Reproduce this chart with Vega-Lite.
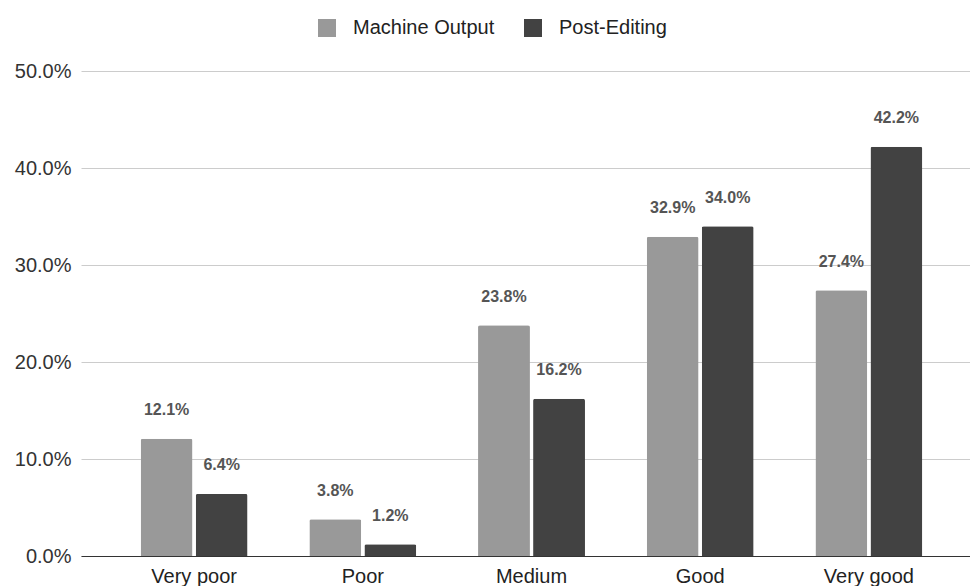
{
  "$schema": "https://vega.github.io/schema/vega-lite/v6.json",
  "autosize": "none",
  "width": 889,
  "height": 485,
  "padding": {"left": 81, "top": 71, "right": 0, "bottom": 30},
  "background": "white",
  "config": {
    "view": {"stroke": null},
    "font": "Liberation Sans"
  },
  "data": {
    "values": [
      {"rating": "Very poor", "series": "Machine Output", "share": 0.121},
      {"rating": "Very poor", "series": "Post-Editing", "share": 0.064},
      {"rating": "Poor", "series": "Machine Output", "share": 0.038},
      {"rating": "Poor", "series": "Post-Editing", "share": 0.012},
      {"rating": "Medium", "series": "Machine Output", "share": 0.238},
      {"rating": "Medium", "series": "Post-Editing", "share": 0.162},
      {"rating": "Good", "series": "Machine Output", "share": 0.329},
      {"rating": "Good", "series": "Post-Editing", "share": 0.340},
      {"rating": "Very good", "series": "Machine Output", "share": 0.274},
      {"rating": "Very good", "series": "Post-Editing", "share": 0.422}
    ]
  },
  "encoding": {
    "x": {
      "field": "rating",
      "type": "nominal",
      "sort": ["Very poor", "Poor", "Medium", "Good", "Very good"],
      "scale": {"paddingInner": 0.366, "paddingOuter": 0.318, "align": 0.556},
      "axis": {
        "title": null,
        "labelAngle": 0,
        "ticks": false,
        "domainColor": "#333333",
        "domainWidth": 1.2,
        "labelFontSize": 20,
        "labelColor": "#222222",
        "labelPadding": 10
      }
    },
    "xOffset": {
      "field": "series",
      "type": "nominal",
      "sort": ["Machine Output", "Post-Editing"],
      "scale": {"paddingInner": 0.057, "paddingOuter": 0}
    },
    "y": {
      "field": "share",
      "type": "quantitative",
      "scale": {"domain": [0, 0.5], "nice": false},
      "axis": {
        "title": null,
        "format": ".1%",
        "values": [0, 0.1, 0.2, 0.3, 0.4, 0.5],
        "domain": false,
        "ticks": false,
        "gridColor": "#cccccc",
        "gridWidth": 1,
        "labelFontSize": 20,
        "labelColor": "#333333",
        "labelPadding": 10
      }
    }
  },
  "layer": [
    {
      "mark": {"type": "bar", "cornerRadiusEnd": 2},
      "encoding": {
        "color": {
          "field": "series",
          "type": "nominal",
          "sort": ["Machine Output", "Post-Editing"],
          "scale": {"domain": ["Machine Output", "Post-Editing"], "range": ["#999999", "#424242"]},
          "legend": {
            "title": null,
            "orient": "none",
            "direction": "horizontal",
            "legendX": 236,
            "legendY": -53,
            "padding": 0,
            "symbolType": "square",
            "symbolSize": 324,
            "symbolStrokeWidth": 0,
            "symbolOpacity": 1,
            "labelFontSize": 20,
            "labelColor": "#222222",
            "labelOffset": 16,
            "columnPadding": 28
          }
        }
      }
    },
    {
      "mark": {
        "type": "text",
        "baseline": "middle",
        "align": "center",
        "dy": -28.5,
        "fontSize": 16,
        "fontWeight": "bold",
        "color": "#555555"
      },
      "encoding": {
        "text": {"field": "share", "type": "quantitative", "format": ".1%"}
      }
    }
  ]
}
